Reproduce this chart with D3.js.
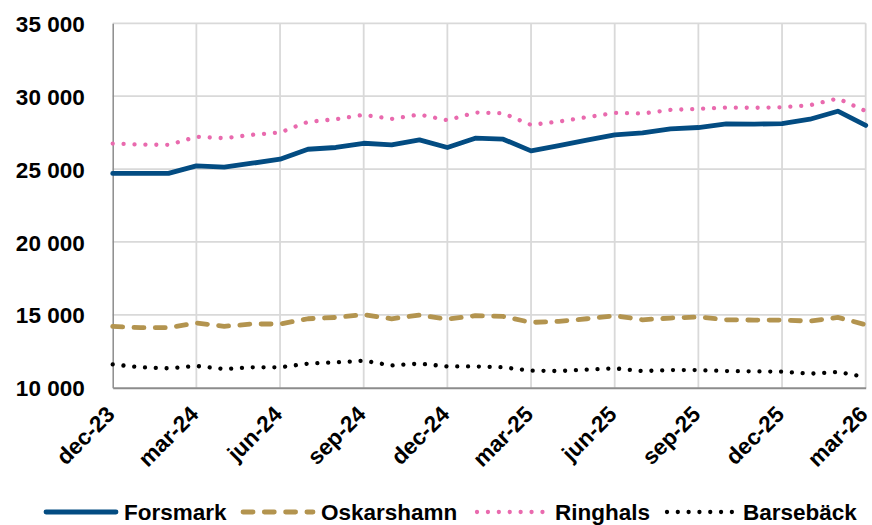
<!DOCTYPE html>
<html>
<head>
<meta charset="utf-8">
<script src="https://cdn.jsdelivr.net/npm/d3@7"></script>
<style>
  html, body { margin: 0; padding: 0; background: #fff; }
  svg { display: block; font-family: "Liberation Sans", Arial, sans-serif; font-weight: bold; }
</style>
</head>
<body>
<svg id="chart" width="872" height="525"></svg>
<script>
// Monthly values per plant
const months = ["dec-23","jan-24","feb-24","mar-24","apr-24","maj-24","jun-24","jul-24","aug-24","sep-24","okt-24","nov-24",
                "dec-24","jan-25","feb-25","mar-25","apr-25","maj-25","jun-25","jul-25","aug-25","sep-25","okt-25","nov-25",
                "dec-25","jan-26","feb-26","mar-26"];
const forsmark   = [24700,24700,24700,25220,25130,25400,25680,26360,26480,26770,26660,27000,
                    26480,27120,27050,26250,26610,26980,27350,27480,27760,27850,28100,28080,
                    28120,28420,28970,27990];
const oskarshamn = [14210,14120,14120,14440,14210,14370,14370,14730,14820,15010,14730,14980,
                    14700,14940,14890,14480,14550,14730,14940,14660,14780,14850,14660,14640,
                    14640,14570,14820,14320];
const ringhals   = [26750,26680,26660,27210,27120,27350,27510,28240,28420,28720,28440,28740,
                    28350,28880,28830,28030,28260,28560,28850,28810,29060,29130,29220,29200,
                    29240,29380,29840,28980];
const barseback  = [11600,11400,11330,11490,11280,11400,11400,11650,11740,11850,11530,11650,
                    11460,11460,11400,11170,11140,11240,11330,11140,11210,11210,11140,11120,
                    11100,10960,11080,10730];
const seriesNames = ["Forsmark","Oskarshamn","Ringhals","Barsebäck"];
const yTicks = [10000,15000,20000,25000,30000,35000];
const xTickLabels = months.filter((m, i) => i % 3 === 0);

const series = [
  { name: seriesNames[0], values: forsmark,   color: "#034c82", width: 4.8, dash: null,        cap: "round" },
  { name: seriesNames[1], values: oskarshamn, color: "#b3944f", width: 4.8, dash: "10 11.3",   cap: "round" },
  { name: seriesNames[2], values: ringhals,   color: "#e96aae", width: 4.3, dash: "0.01 10.9", cap: "round" },
  { name: seriesNames[3], values: barseback,  color: "#000000", width: 4.3, dash: "0.01 10.8", cap: "round" }
];

const svg = d3.select("#chart");
const plot = { left: 112.7, right: 865.7, top: 23.3, bottom: 387.7 };

const x = d3.scalePoint().domain(months).range([plot.left, plot.right]).padding(0);
const y = d3.scaleLinear().domain([10000, 35000]).range([plot.bottom, plot.top]);

const sv = d3.formatLocale({ decimal: ",", thousands: "\u00a0", grouping: [3], currency: ["", " kr"] });
const fmt = sv.format(",d");

// Grid lines
const grid = svg.append("g");
grid.selectAll("line.h").data(yTicks.filter(t => t > 10000)).join("line")
  .attr("x1", plot.left).attr("x2", plot.right)
  .attr("y1", d => y(d)).attr("y2", d => y(d))
  .attr("stroke", "#d9d9d9").attr("stroke-width", 1.8);
grid.selectAll("line.v").data(xTickLabels.slice(1)).join("line")
  .attr("x1", d => x(d)).attr("x2", d => x(d))
  .attr("y1", plot.top).attr("y2", plot.bottom)
  .attr("stroke", "#d9d9d9").attr("stroke-width", 1.8);

// Y axis
const yAxis = svg.append("g")
  .attr("transform", `translate(${plot.left},0)`)
  .call(d3.axisLeft(y).tickValues(yTicks).tickFormat(fmt).tickSize(0).tickPadding(28));
yAxis.select(".domain").attr("stroke", "#8c8c8c").attr("stroke-width", 1.5);
yAxis.selectAll("text")
  .attr("font-size", "22.5px").attr("font-weight", "bold").attr("fill", "#000")
  .attr("font-family", "Liberation Sans, Arial, sans-serif")
  .attr("dy", "0.36em");

// X axis
const xAxis = svg.append("g")
  .attr("transform", `translate(0,${plot.bottom})`)
  .call(d3.axisBottom(x).tickValues(xTickLabels).tickSize(0).tickPadding(0));
xAxis.select(".domain").attr("stroke", "#8c8c8c").attr("stroke-width", 2);
xAxis.selectAll("text")
  .attr("font-size", "22.5px").attr("font-weight", "bold").attr("fill", "#000")
  .attr("font-family", "Liberation Sans, Arial, sans-serif")
  .attr("text-anchor", "end")
  .attr("dy", null).attr("y", null)
  .attr("transform", "translate(3,28) rotate(-45)");

// Series lines
const line = d3.line().x((d, i) => x(months[i])).y(d => y(d));
svg.append("g").selectAll("path").data(series).join("path")
  .attr("d", d => line(d.values))
  .attr("fill", "none")
  .attr("stroke", d => d.color)
  .attr("stroke-width", d => d.width)
  .attr("stroke-dasharray", d => d.dash)
  .attr("stroke-linecap", d => d.cap)
  .attr("stroke-linejoin", "round");

// Legend
const legendItems = [
  { lx: 46,  tx: 124 },
  { lx: 243, tx: 321 },
  { lx: 477, tx: 555 },
  { lx: 667, tx: 743 }
];
const ly = 512;
const legend = svg.append("g");
series.forEach((s, i) => {
  const p = legendItems[i];
  legend.append("line")
    .attr("x1", p.lx).attr("x2", p.lx + 70).attr("y1", ly).attr("y2", ly)
    .attr("stroke", s.color).attr("stroke-width", s.width)
    .attr("stroke-dasharray", s.dash).attr("stroke-linecap", s.cap);
  legend.append("text")
    .attr("x", p.tx).attr("y", 519.5)
    .attr("font-size", "22.5px").attr("font-weight", "bold").attr("fill", "#000")
    .text(s.name);
});
</script>
</body>
</html>
